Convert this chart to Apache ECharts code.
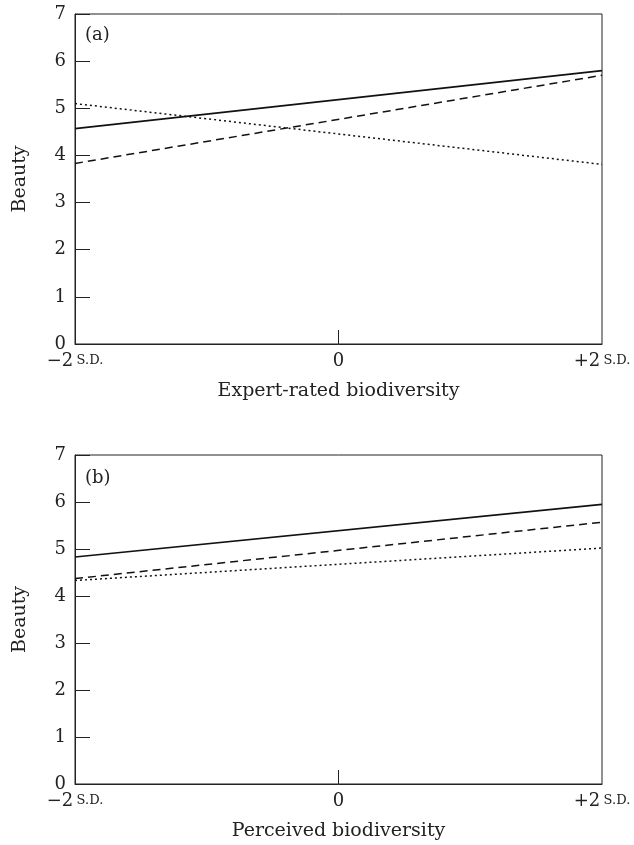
<!DOCTYPE html>
<html>
<head>
<meta charset="utf-8">
<script src="https://cdn.jsdelivr.net/npm/echarts@6/dist/echarts.min.js"></script>
<style>
  html, body { margin: 0; padding: 0; background: #fff; }
  #chart { width: 634px; height: 845px; }
</style>
</head>
<body>
<div id="chart"></div>
<script>
// x positions (in S.D. units) where each fitted line is read
var xVals = [-2, 2];
var xTicks = [-2, 0, 2];

// panel (a) expert-rated biodiversity
var aSolid = [4.57, 5.80];
var aDashed = [3.83, 5.70];
var aDotted = [5.10, 3.81];

// panel (b) perceived biodiversity
var bSolid = [4.83, 5.95];
var bDashed = [4.37, 5.57];
var bDotted = [4.33, 5.02];

var panelNames = ['(a)', '(b)'];
var xNames = ['Expert-rated biodiversity', 'Perceived biodiversity'];

var font = 'DejaVu Serif';
var ink = '#222';

var chart = echarts.init(document.getElementById('chart'));

function pairs(ys) {
    return xVals.map(function(x, i) { return [x, ys[i]]; });
}

function xAxis(idx, name) {
    return {
        type: 'value',
        gridIndex: idx,
        min: -2,
        max: 2,
        interval: 2,
        name: name,
        nameLocation: 'middle',
        nameGap: 38,
        nameTextStyle: { fontFamily: font, fontSize: 19, color: ink },
        axisLine: { show: true, onZero: false, lineStyle: { color: ink, width: 1 } },
        axisTick: { show: true, inside: true, length: 14, customValues: [0], lineStyle: { color: ink } },
        splitLine: { show: false },
        axisLabel: {
            margin: 8,
            customValues: xTicks,
            formatter: function(v) {
                if (v === -2) return '{n|\u22122} {s|S.D.}';
                if (v === 2) return '{n|+2} {s|S.D.}';
                return '{n|0}';
            },
            rich: {
                n: { fontFamily: font, fontSize: 18, color: ink },
                s: { fontFamily: font, fontSize: 13, color: ink }
            }
        }
    };
}

function yAxis(idx) {
    return {
        type: 'value',
        gridIndex: idx,
        min: 0,
        max: 7,
        interval: 1,
        name: 'Beauty',
        nameLocation: 'middle',
        nameGap: 45,
        nameTextStyle: { fontFamily: font, fontSize: 19, color: ink },
        axisLine: { show: true, onZero: false, lineStyle: { color: ink, width: 1 } },
        axisTick: { show: true, inside: true, length: 15, lineStyle: { color: ink } },
        splitLine: { show: false },
        axisLabel: { margin: 9, fontFamily: font, fontSize: 18, color: ink }
    };
}

function line(idx, ys, type, width) {
    return {
        type: 'line',
        xAxisIndex: idx,
        yAxisIndex: idx,
        data: pairs(ys),
        showSymbol: false,
        silent: true,
        lineStyle: { color: '#111', width: width, type: type }
    };
}

var option = {
    animation: false,
    backgroundColor: '#fff',
    title: [
        { text: panelNames[0], left: 80, top: 21, textStyle: { fontFamily: font, fontSize: 18, fontWeight: 'normal', color: ink } },
        { text: panelNames[1], left: 80, top: 464, textStyle: { fontFamily: font, fontSize: 18, fontWeight: 'normal', color: ink } }
    ],
    grid: [
        { left: 75, right: 32, top: 14, height: 330, show: true, borderColor: ink, borderWidth: 1 },
        { left: 75, right: 32, top: 455, height: 329, show: true, borderColor: ink, borderWidth: 1 }
    ],
    xAxis: [xAxis(0, xNames[0]), xAxis(1, xNames[1])],
    yAxis: [yAxis(0), yAxis(1)],
    series: [
        line(0, aSolid, 'solid', 1.7),
        line(0, aDashed, [8, 5], 1.5),
        line(0, aDotted, [2, 3], 1.5),
        line(1, bSolid, 'solid', 1.7),
        line(1, bDashed, [8, 5], 1.5),
        line(1, bDotted, [2, 3], 1.5)
    ]
};

chart.setOption(option);
</script>
</body>
</html>
